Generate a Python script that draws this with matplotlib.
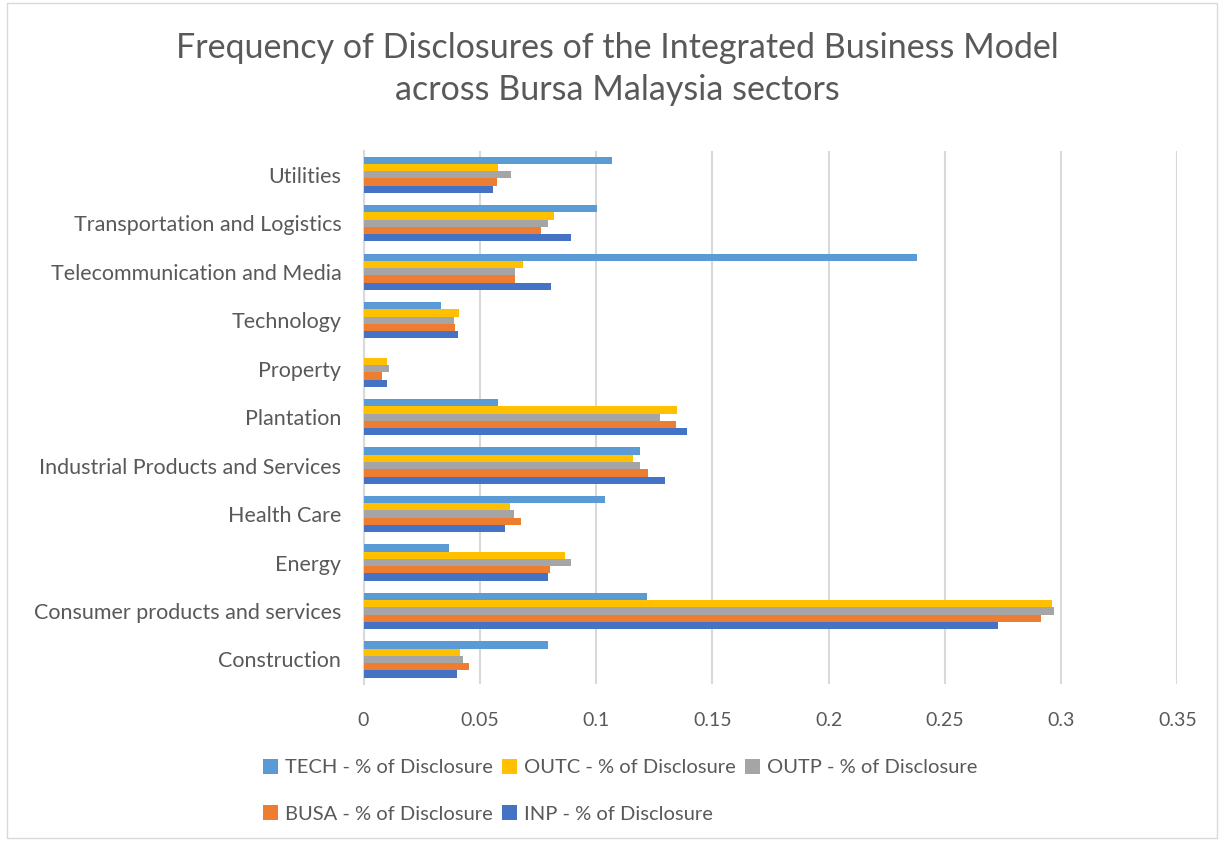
import numpy as np
import matplotlib.pyplot as plt
from matplotlib.patches import Rectangle

FIGSIZE = (12.24, 8.41)
DPI = 100

plt.rcParams['font.family'] = ['Lato', 'DejaVu Sans']

# categories, bottom to top as drawn
sectors = ['Construction', 'Consumer products and services', 'Energy', 'Health Care',
           'Industrial Products and Services', 'Plantation', 'Property', 'Technology',
           'Telecommunication and Media', 'Transportation and Logistics', 'Utilities']

inp  = [0.040, 0.273, 0.0795, 0.061, 0.1295, 0.139, 0.0103, 0.0405, 0.0808, 0.089, 0.0555]
busa = [0.0455, 0.2914, 0.080, 0.0675, 0.1225, 0.1345, 0.008, 0.0395, 0.065, 0.0762, 0.0575]
outp = [0.0428, 0.297, 0.0894, 0.0648, 0.119, 0.1275, 0.011, 0.039, 0.0653, 0.0795, 0.0636]
outc = [0.0416, 0.296, 0.0867, 0.063, 0.1158, 0.135, 0.0103, 0.041, 0.0685, 0.0817, 0.058]
tech = [0.0795, 0.122, 0.0366, 0.1037, 0.119, 0.058, 0.0, 0.0334, 0.238, 0.1005, 0.107]

# series from the bottom of each group upwards
series = [
    ('INP - % of Disclosure', inp, '#4472C4'),
    ('BUSA - % of Disclosure', busa, '#ED7D31'),
    ('OUTP - % of Disclosure', outp, '#A5A5A5'),
    ('OUTC - % of Disclosure', outc, '#FFC000'),
    ('TECH - % of Disclosure', tech, '#5B9BD5'),
]

###############################################################################

fig = plt.figure(figsize=FIGSIZE, dpi=DPI)
ax = fig.add_axes([0.297, 0.187, 0.665, 0.634])

y = np.arange(len(sectors))
h = 0.15
bars = {}
for k, (name, vals, col) in enumerate(series):
    off = (k - 2) * h
    bars[name] = ax.barh(y + off, vals, height=h, color=col, zorder=3, label=name)

ax.set_xlim(0, 0.35)
ax.set_ylim(-0.5, len(sectors) - 0.5)
ax.set_xticks(np.arange(0, 0.351, 0.05))
ax.set_xticklabels(['0', '0.05', '0.1', '0.15', '0.2', '0.25', '0.3', '0.35'])
ax.set_yticks(y)
ax.set_yticklabels(sectors)
ax.tick_params(axis='x', length=0, labelsize=14, colors='#595959', pad=20)
ax.tick_params(axis='y', length=0, labelsize=15.5, colors='#595959', pad=16)
ax.xaxis.grid(True, color='#D9D9D9', lw=1.5, zorder=0)
for s in ['top', 'right', 'bottom']:
    ax.spines[s].set_visible(False)
ax.spines['left'].set_color('#D9D9D9')
ax.spines['left'].set_linewidth(1.5)

fig.suptitle('Frequency of Disclosures of the Integrated Business Model\nacross Bursa Malaysia sectors',
             x=0.504, y=0.962, fontsize=24.5, color='#595959', linespacing=1.38)

order = ['TECH - % of Disclosure', 'BUSA - % of Disclosure', 'OUTC - % of Disclosure',
         'INP - % of Disclosure', 'OUTP - % of Disclosure']
leg = fig.legend([bars[n] for n in order], order, ncol=3, loc='lower left',
                 bbox_to_anchor=(0.2, 0.0), frameon=False, fontsize=14.5,
                 handlelength=0.75, handleheight=0.75, handletextpad=0.35,
                 columnspacing=0.45, labelspacing=1.45)
for t in leg.get_texts():
    t.set_color('#595959')

fig.patches.append(Rectangle((0.006, 0.003), 0.988, 0.994, transform=fig.transFigure,
                             fill=False, edgecolor='#D9D9D9', lw=1))

fig.savefig('out.png', dpi=DPI)
